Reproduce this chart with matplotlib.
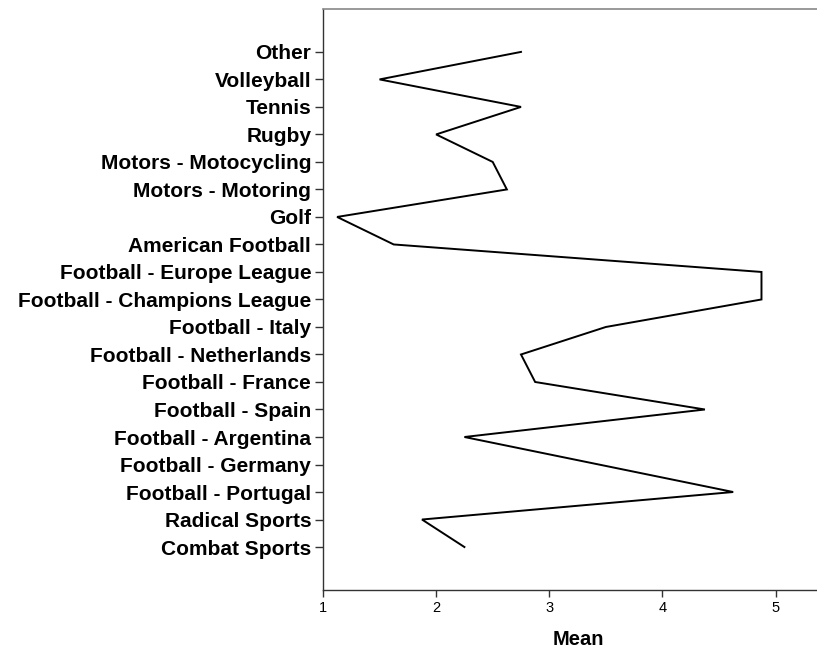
import numpy as np
import matplotlib
matplotlib.use("Agg")
import matplotlib.pyplot as plt

categories = [
    "Other", "Volleyball", "Tennis", "Rugby", "Motors - Motocycling",
    "Motors - Motoring", "Golf", "American Football",
    "Football - Europe League", "Football - Champions League",
    "Football - Italy", "Football - Netherlands", "Football - France",
    "Football - Spain", "Football - Argentina", "Football - Germany",
    "Football - Portugal", "Radical Sports", "Combat Sports",
]
# Mean score per sport; Germany has no mean (missing)
means = [
    2.75, 1.50, 2.75, 2.00, 2.50,
    2.625, 1.125, 1.625,
    4.875, 4.875,
    3.50, 2.75, 2.875,
    4.375, 2.25, np.nan,
    4.625, 1.875, 2.25,
]
x_ticks = [1, 2, 3, 4, 5]

plt.rcParams["font.family"] = ["Liberation Sans", "DejaVu Sans"]

fig = plt.figure(figsize=(8.17, 6.53), dpi=100)
ax = fig.add_axes([0.3953, 0.0972, 0.6247, 0.8886])

pos = np.arange(len(categories))
vals = np.array(means, dtype=float)
ok = ~np.isnan(vals)
ax.plot(vals[ok], pos[ok], color="black", lw=1.4, solid_joinstyle="miter")

ax.set_ylim(len(categories) - 1 + 1.545, -1.55)
ax.set_xlim(1, 5.51)

ax.set_yticks(pos)
ax.set_yticklabels(categories, fontsize=15, fontweight="bold")
ax.set_xticks(x_ticks)
ax.set_xticklabels([str(t) for t in x_ticks], fontsize=10.5)
ax.set_xlabel("Mean", fontsize=14.5, fontweight="bold", labelpad=11)

ax.tick_params(axis="y", direction="out", length=6, width=1, color="#333333", pad=2.5)
ax.tick_params(axis="x", direction="out", length=5, width=1, color="#333333", pad=3)

for side in ("left", "bottom"):
    ax.spines[side].set_color("#333333")
    ax.spines[side].set_linewidth(1)
ax.spines["top"].set_color("#888888")
ax.spines["top"].set_linewidth(1.2)
ax.spines["right"].set_visible(False)

fig.savefig("out.png", dpi=100)
